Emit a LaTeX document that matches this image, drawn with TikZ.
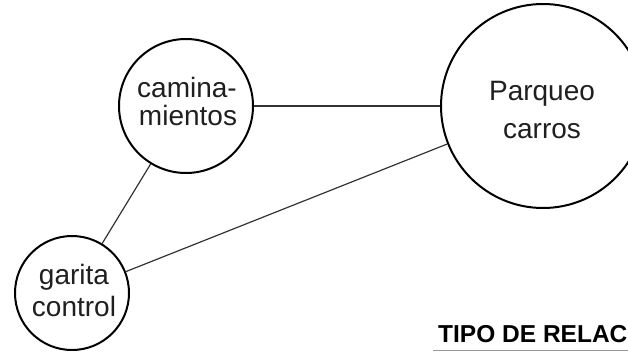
\documentclass[tikz,border=0pt]{standalone}
\usepackage{fontspec}
\setmainfont{Liberation Sans}
\begin{document}
\begin{tikzpicture}[x=1pt,y=-1pt,
  bubble/.style={circle,draw=black,line width=2pt,inner sep=0pt},
  lbl/.style={anchor=base,inner sep=0pt,text=black!88,font=\fontsize{28}{28}\selectfont},
  link/.style={draw=black!80,line width=1.2pt}]
\useasboundingbox (0,0) rectangle (628,351);
\clip (0,0) rectangle (628,351);
\node[bubble,minimum size=134pt] (cam) at (186,106) {};
\node[bubble,minimum size=204pt] (park) at (543,106) {};
\node[bubble,minimum size=114pt] (gar) at (72,293) {};
\node[lbl] (t1) at (187,97) {camina-};
\node[lbl] (t2) at (188,125) {mientos};
\node[lbl] (t3) at (542,100) {Parqueo};
\node[lbl] (t4) at (542,138) {carros};
\node[lbl] (t5) at (74,284) {garita};
\node[lbl] (t6) at (74,316) {control};
\draw[link] (cam) -- (park);
\draw[link] (cam) -- (gar);
\draw[link] (gar) -- (park);
\node[anchor=base west,inner sep=0pt,font=\bfseries\fontsize{24.5}{24.5}\selectfont] (title) at (438,342) {TIPO DE RELAC};
\coordinate (u1) at (433,350);
\coordinate (u2) at (628,350);
\draw[black!40,line width=1pt] (u1) -- (u2);
\end{tikzpicture}
\end{document}
